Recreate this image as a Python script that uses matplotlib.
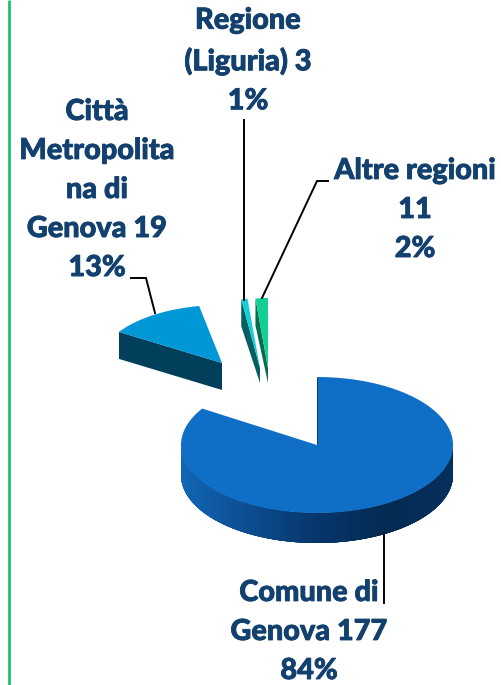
import numpy as np
import matplotlib
matplotlib.use("Agg")
import matplotlib.pyplot as plt
import matplotlib.patheffects as pe
from matplotlib.colors import LinearSegmentedColormap

# data
categories = ["Comune di\nGenova 177", "Città\nMetropolita\nna di\nGenova 19", "Regione\n(Liguria) 3", "Altre regioni\n11"]
counts = [177, 19, 3, 11]
percents = [84, 13, 1, 2]

# layout in pixels, one entry per slice
centers = [(317, 445), (222, 363), (260, 368), (268, 368)]
radii = [(136, 68), (122, 58), (100, 70), (100, 70)]
depths = [30, 27, 27, 27]
tips = [475, 390, 383, 383]
top_colors = ["#0f6fc6", "#0097d6", "#13cfd8", "#12cf96"]
side_colors = ["#0f6fc6", "#023f5a", "#055f60", "#0b6a50"]
label_pos = [(309, 632), (97, 190), (248, 61), (415, 210)]
label_color = "#12406f"

side_cmap = LinearSegmentedColormap.from_list("side", ["#1166b6", "#0c4d90", "#07366b", "#042a52", "#05305c"])

fig = plt.figure(figsize=(5.01, 6.85), dpi=100)
ax = fig.add_axes([0, 0, 1, 1])
ax.set_xlim(0, 501)
ax.set_ylim(685, 0)
ax.axis("off")

ax.plot([9, 9], [0, 685], color="#12bf63", lw=1.9, solid_capstyle="butt")


def rim(cx, cy, rx, ry, a):
    # angle in radians, clockwise from 12 o'clock
    return cx + rx * np.sin(a), cy - ry * np.cos(a)


start = 0
for i, p in enumerate(percents):
    a0 = np.deg2rad(start)
    a1 = np.deg2rad(start + p * 3.6)
    start += p * 3.6
    cx, cy = centers[i]
    rx, ry = radii[i]
    d = depths[i]
    t = np.linspace(a0, a1, 200)
    x, y = rim(cx, cy, rx, ry, t)
    if i == 0:
        # rounded wall of the big slice, shaded left to right
        low = np.linspace(np.pi / 2, 3 * np.pi / 2, 400)
        lx, ly = rim(cx, cy, rx, ry, low)
        for k in range(len(low) - 1):
            # strips overlap so no seams show
            m = min(k + 5, len(low) - 1)
            c = side_cmap((lx[k] - (cx - rx)) / (2 * rx))
            ax.fill(np.r_[lx[k:m + 1], lx[k:m + 1][::-1]],
                    np.r_[ly[k:m + 1], ly[k:m + 1][::-1] + d],
                    color=c, lw=0, zorder=2)
    else:
        # flat wall on the cut edge
        ax.fill([x[0], x[0], cx, cx], [y[0], y[0] + d, tips[i], cy],
                color=side_colors[i], lw=0, zorder=2)
    ax.fill(np.r_[cx, x], np.r_[cy, y], color=top_colors[i], lw=0, zorder=3)

# thin dark edge on the big slice cut
ax.plot([centers[0][0], centers[0][0]], [378, 443], color="#0a3a66", lw=0.7, zorder=4)

# leader lines
leaders = [([384, 384], [535, 603]),
           ([131, 146, 155], [278, 278, 313]),
           ([244, 244], [120, 300]),
           ([328, 317, 262], [181, 181, 298])]
for lx, ly in leaders:
    ax.plot(lx, ly, color="black", lw=1.4, zorder=5, solid_joinstyle="miter")

for i, name in enumerate(categories):
    ax.text(label_pos[i][0], label_pos[i][1], f"{name}\n{percents[i]}%", ha="center", va="center",
            family="Lato", weight=900, fontsize=20.8, color=label_color, linespacing=1.62,
            zorder=6, path_effects=[pe.withStroke(linewidth=0.6, foreground=label_color)])

fig.savefig("out.png", dpi=100)
